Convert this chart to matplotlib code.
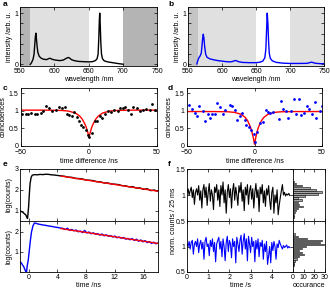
import numpy as np
import matplotlib.pyplot as plt

plt.rcParams['font.family'] = ['Liberation Sans', 'DejaVu Sans']
plt.rcParams['font.size'] = 5
plt.rcParams['axes.linewidth'] = 0.6
plt.rcParams['xtick.direction'] = 'in'
plt.rcParams['ytick.direction'] = 'in'
plt.rcParams['xtick.top'] = True
plt.rcParams['ytick.right'] = True
plt.rcParams['xtick.major.size'] = 2
plt.rcParams['ytick.major.size'] = 2
plt.rcParams['xtick.major.width'] = 0.5
plt.rcParams['ytick.major.width'] = 0.5
plt.rcParams['xtick.major.pad'] = 1.5
plt.rcParams['ytick.major.pad'] = 1.2
plt.rcParams['axes.labelpad'] = 1.0

# ----------------------------- DATA | spectra
spec_a_nm = [565, 567, 569, 570.5, 571.5, 572.5, 573.2, 574, 575, 576, 578, 581, 585, 589,
             592, 594, 597, 602, 608, 613, 617, 620, 622, 625, 629, 635, 642, 650, 656,
             660, 662.5, 664, 665, 665.8, 666.4, 667.2, 668, 669, 670.5, 673, 678, 685,
             692, 700]
spec_a = [0.0, 0.04, 0.10, 0.2, 0.38, 0.55, 0.61, 0.5, 0.35, 0.24, 0.16, 0.12, 0.10, 0.095,
          0.115, 0.12, 0.10, 0.085, 0.075, 0.085, 0.115, 0.135, 0.13, 0.095, 0.075, 0.06,
          0.055, 0.05, 0.055, 0.075, 0.11, 0.2, 0.5, 0.85, 1.0, 0.75, 0.42, 0.2, 0.11, 0.07,
          0.05, 0.035, 0.02, 0.005]
spec_b_nm = [563, 564.5, 566, 568, 569.5, 570.5, 571.5, 572.5, 573.5, 574.5, 576, 578, 582,
             588, 594, 600, 606, 612, 616, 619, 621, 624, 630, 640, 650, 656, 660, 663,
             664.5, 665.5, 666.5, 667.5, 668.5, 669.5, 671, 674, 680, 690, 700, 715, 725,
             729, 731.5, 734, 738, 745, 750]
spec_b = [0.01, 0.08, 0.13, 0.17, 0.22, 0.35, 0.5, 0.59, 0.5, 0.35, 0.2, 0.14, 0.11, 0.09,
          0.075, 0.065, 0.055, 0.05, 0.06, 0.075, 0.075, 0.055, 0.04, 0.035, 0.035, 0.045,
          0.065, 0.13, 0.3, 0.65, 1.0, 0.8, 0.45, 0.22, 0.12, 0.07, 0.04, 0.025, 0.02, 0.02,
          0.022, 0.035, 0.045, 0.035, 0.022, 0.015, 0.015]

# ----------------------------- DATA | coincidences
c_t = [-49, -46.6, -45, -42.6, -40, -38, -35.5, -33.7, -31.3, -29.4, -27, -24.6, -22.2, -20,
       -18, -16, -14.5, -12.6, -10.7, -9, -7.3, -5.9, -4.2, -2.5, -1, 0.3, 2.3, 4.2, 6, 8,
       9.5, 11.4, 13.8, 16.2, 18.6, 21, 23, 24.8, 26.7, 28.7, 30.6, 32.5, 35, 37.3, 39.7,
       42, 44.5, 46.2, 48.5]
c_y = [0.9, 0.9, 0.92, 0.95, 0.92, 0.92, 0.95, 1.0, 1.15, 1.08, 1.0, 1.02, 1.12, 1.08, 1.1,
       0.9, 0.88, 0.85, 0.98, 0.82, 0.7, 0.6, 0.55, 0.45, 0.32, 0.27, 0.37, 0.72, 0.72, 0.85,
       0.8, 0.92, 1.0, 0.98, 1.02, 1.0, 1.08, 1.08, 1.1, 1.02, 0.9, 1.1, 1.08, 1.0, 1.02,
       1.05, 1.02, 1.2, 1.02]
c_fit_t = [-50, -30, -20, -15, -10, -7, -5, -3, -2, -1, 0, 1, 2, 3, 5, 7, 10, 15, 20, 30, 50]
c_fit = [1.02, 1.02, 1.011, 0.993, 0.937, 0.857, 0.767, 0.625, 0.53, 0.40, 0.25, 0.40,
         0.53, 0.625, 0.767, 0.857, 0.937, 0.993, 1.011, 1.02, 1.02]

d_t = [-48.6, -46.6, -44.3, -42.6, -40.9, -38.5, -36.6, -34.7, -33, -31.3, -29.4, -27.5,
       -25.8, -23.4, -21.5, -18, -16.3, -14.6, -12.7, -10.8, -9.1, -7.4, -6, -4.3, -2.6,
       -0.7, 0.5, 2.2, 4.1, 6, 8.4, 10, 11.7, 13.6, 17.9, 19.6, 21.3, 23.2, 25.1, 26.8,
       29.2, 30.9, 32.8, 34.7, 36.4, 38.8, 40.5, 42.3, 44.7, 45.9, 48.3, 50]
d_y = [1.18, 1.05, 0.95, 0.86, 1.13, 0.99, 0.72, 0.91, 0.81, 0.91, 0.91, 1.21, 1.10, 0.91,
       1.02, 1.18, 1.13, 1.02, 0.75, 0.84, 0.95, 0.75, 0.59, 0.54, 0.46, 0.34, 0.1, 0.41,
       0.65, 0.67, 1.02, 0.97, 0.95, 0.97, 0.77, 1.27, 1.05, 1.0, 0.81, 0.99, 1.34, 0.91,
       1.34, 0.88, 0.95, 1.13, 1.05, 0.91, 1.24, 0.81, 0.99, 1.13]
d_fit_t = [-50, -30, -20, -15, -10, -7, -5, -3, -2, -1, 0, 1, 2, 3, 5, 7, 10, 15, 20, 30, 50]
d_fit = [0.98, 0.98, 0.974, 0.958, 0.904, 0.818, 0.713, 0.54, 0.416, 0.256, 0.05, 0.256,
         0.416, 0.54, 0.713, 0.818, 0.904, 0.958, 0.974, 0.98, 0.98]

# ----------------------------- DATA | lifetimes
e_t_top = [-1.2, -1.0, -0.8, -0.6, -0.4, -0.25, -0.15, 0.0, 0.1, 0.2, 0.35, 0.5, 0.8, 1.2,
           1.6, 2.0, 2.4, 2.8, 3.2, 3.6, 4.0, 4.5, 5, 5.5, 6, 6.5, 7, 7.5, 8, 8.5, 9, 9.5,
           10, 10.5, 11, 11.5, 12, 12.5, 13, 13.5, 14, 14.5, 15, 15.5, 16, 16.5, 17, 17.5, 18]
e_y_top = [1.0, 0.95, 0.92, 0.85, 0.8, 0.68, 0.62, 1.2, 1.8, 2.3, 2.6, 2.7, 2.73, 2.72,
           2.74, 2.73, 2.75, 2.74, 2.72, 2.71, 2.69, 2.67, 2.65, 2.61, 2.60, 2.55, 2.54,
           2.52, 2.47, 2.46, 2.44, 2.39, 2.38, 2.33, 2.33, 2.28, 2.27, 2.25, 2.20, 2.19,
           2.14, 2.15, 2.08, 2.09, 2.02, 2.05, 1.96, 1.99, 1.92]
e_fit_top_t = [4.5, 18]
e_fit_top = [2.66, 1.93]

e_t_bot = [-1.2, -1.0, -0.85, -0.7, -0.55, -0.4, -0.3, -0.2, -0.05, 0.1, 0.25, 0.4, 0.6,
           0.8, 1.0, 1.3, 1.6, 2.0, 2.4, 2.8, 3.2, 3.6, 4.0, 4.4, 4.8, 5.1, 5.4, 5.7, 6.0,
           6.3, 6.6, 6.9, 7.2, 7.5, 7.8, 8.1, 8.4, 8.7, 9.0, 9.3, 9.6, 9.9, 10.2, 10.5,
           10.8, 11.1, 11.4, 11.7, 12.0, 12.3, 12.6, 12.9, 13.2, 13.5, 13.8, 14.1, 14.4,
           14.7, 15.0, 15.3, 15.6, 15.9, 16.2, 16.5, 16.8, 17.1, 17.4, 17.7, 18.0]
e_y_bot = [0.5, 0.45, 0.35, 0.28, 0.15, 0.02, -0.05, 0.3, 0.6, 1.1, 1.6, 2.0, 2.3, 2.45,
           2.44, 2.40, 2.38, 2.35, 2.33, 2.30, 2.28, 2.25, 2.23, 2.20, 2.18, 2.12, 2.19,
           2.08, 2.13, 2.06, 2.10, 2.01, 2.05, 1.97, 2.08, 1.95, 2.00, 1.91, 1.96, 1.89,
           1.92, 1.84, 1.90, 1.81, 1.86, 1.79, 1.82, 1.75, 1.80, 1.71, 1.75, 1.69, 1.73,
           1.64, 1.68, 1.61, 1.67, 1.58, 1.64, 1.54, 1.60, 1.51, 1.57, 1.47, 1.52, 1.43,
           1.49, 1.41, 1.45]
e_fit_bot_t = [4.5, 18]
e_fit_bot = [2.17, 1.43]

# ----------------------------- DATA | intensity traces (25 ms bins, shown every 50 ms)
f_dt = 0.05
f_upper = [1.05, 1.12, 1.0, 1.08, 1.15, 0.95, 1.1, 0.82, 1.05, 1.12,
           1.0, 1.18, 0.9, 1.08, 0.75, 1.1, 1.2, 0.95, 1.15, 0.8,
           1.05, 1.22, 0.88, 1.1, 1.0, 0.72, 1.15, 1.05, 1.2, 0.9,
           1.1, 0.78, 1.18, 1.0, 1.25, 0.85, 1.1, 0.65, 1.05, 1.2,
           0.95, 1.12, 0.75, 1.08, 1.22, 0.9, 1.15, 1.0, 0.8, 1.18,
           1.05, 1.24, 0.88, 1.1, 0.7, 1.15, 1.0, 1.2, 0.82, 1.08,
           1.18, 0.92, 1.12, 0.75, 1.05, 1.22, 0.95, 1.1, 0.68, 1.15,
           1.02, 1.2, 0.85, 1.08, 0.78, 1.12, 1.0, 1.18, 0.9, 0.72,
           1.05, 1.15, 0.65, 1.0, 0.85, 1.1, 0.62, 0.8, 0.95, 1.08,
           1.2, 1.0, 1.05, 0.98, 1.02, 1.0, 1.03, 0.99]
f_lower = [1.05, 1.0, 1.1, 0.95, 1.08, 1.12, 0.85, 1.05, 1.1, 1.0,
           1.15, 0.88, 1.05, 1.12, 0.95, 1.08, 0.75, 1.1, 1.18, 1.0,
           1.05, 0.82, 1.12, 1.0, 1.15, 0.9, 1.08, 0.7, 1.05, 1.12,
           1.18, 0.95, 1.1, 0.8, 1.15, 1.0, 0.72, 1.08, 1.2, 0.9,
           1.12, 1.05, 0.78, 1.15, 1.0, 1.1, 0.68, 1.18, 1.05, 0.9,
           1.12, 1.22, 0.85, 1.1, 1.25, 0.95, 1.15, 0.72, 1.2, 1.05,
           0.88, 1.18, 1.0, 1.1, 0.7, 1.12, 0.95, 1.15, 0.8, 1.08,
           1.0, 1.12, 0.75, 1.05, 0.9, 1.1, 0.65, 0.82, 1.0, 0.68,
           1.08, 0.92, 1.1, 1.0, 0.75, 1.05, 0.98, 1.12, 1.05, 1.0,
           0.95, 1.02, 0.98, 1.0, 1.03, 0.97, 1.0, 0.98]

hist_up_y = [1.26, 1.22, 1.18, 1.14, 1.10, 1.06, 1.02, 0.98, 0.94, 0.90, 0.86, 0.82, 0.78,
             0.74, 0.70, 0.66, 0.62, 0.58]
hist_up_n = [1, 3, 8, 16, 22, 27, 23, 11, 5, 8, 5, 6, 9, 5, 3, 2, 1, 1]
hist_lo_y = [1.25, 1.2, 1.16, 1.12, 1.08, 1.04, 1.0, 0.96, 0.92, 0.88, 0.84, 0.8, 0.76,
             0.72, 0.68, 0.64]
hist_lo_n = [2, 5, 13, 27, 25, 29, 12, 8, 6, 8, 10, 6, 4, 2, 1, 1]


# ----------------------------- LAYOUT (pixel boxes: left, top, right, bottom)
W, H = 330, 289
fig = plt.figure(figsize=(W / 100, H / 100), dpi=100)


def box(l, t, r, b):
    return fig.add_axes([l / W, 1 - b / H, (r - l) / W, (b - t) / H])


ax_a = box(20, 7, 157, 66)
ax_b = box(188, 7, 324, 66)
ax_c = box(21, 88, 157, 146)
ax_d = box(187, 88, 322, 146)
ax_e1 = box(20, 169, 158, 221)
ax_e2 = box(20, 221, 158, 272)
ax_f1 = box(187, 169, 293, 221)
ax_f2 = box(187, 221, 293, 272)
ax_h1 = box(293, 169, 325, 221)
ax_h2 = box(293, 221, 325, 272)

# ----------------------------- a, b | spectra
for ax, nm, sp, col, shades in [
        (ax_a, spec_a_nm, spec_a, 'k', ['#b4b4b4', '#e0e0e0', 'white', '#b4b4b4']),
        (ax_b, spec_b_nm, spec_b, 'b', ['#c4c4c4', '#e0e0e0', 'white', '#e0e0e0'])]:
    for (x0, x1), c in zip([(550, 565), (565, 650), (650, 700), (700, 750)], shades):
        ax.axvspan(x0, x1, color=c, lw=0, zorder=0)
    ax.plot(nm, sp, color=col, lw=1)
    ax.set_xlim(550, 750)
    ax.set_ylim(-0.03, 1.12)
    ax.set_xticks([550, 600, 650, 700, 750])
    ax.set_yticks([0, 0.2, 0.4, 0.6, 0.8, 1.0])
    ax.set_yticklabels(['0', '', '', '', '', '1'])
    ax.set_xlabel('wavelength /nm')
    ax.set_ylabel('intensity /arb. u.')

# ----------------------------- c, d | coincidences
for ax, t, y, ft, fy, col in [(ax_c, c_t, c_y, c_fit_t, c_fit, 'k'),
                               (ax_d, d_t, d_y, d_fit_t, d_fit, 'b')]:
    ax.plot(ft, fy, color='r', lw=1)
    ax.plot(t, y, 'o', color=col, ms=2, mew=0)
    ax.set_xlim(-50, 50)
    ax.set_ylim(0, 1.65)
    ax.set_xticks([-50, 0, 50])
    ax.set_yticks([0, 0.5, 1, 1.5])
    ax.set_yticklabels(['0', '0.5', '1', '1.5'])
    ax.tick_params(axis='x', pad=2.5)
    ax.tick_params(axis='y', pad=2)
    ax.set_xlabel('time difference /ns')
    ax.set_ylabel('coincidences')

# ----------------------------- e | lifetimes
ax_e1.plot(e_t_top, e_y_top, color='k', lw=1)
ax_e1.plot(e_fit_top_t, e_fit_top, color='r', lw=1)
ax_e2.plot(e_t_bot, e_y_bot, color='b', lw=1)
ax_e2.plot(e_fit_bot_t, e_fit_bot, color='r', lw=1)
ax_e1.set_ylim(0.5, 3)
ax_e1.set_yticks([1, 2, 3])
ax_e2.set_ylim(0, 2.55)
ax_e2.set_yticks([1, 2])
for ax in (ax_e1, ax_e2):
    ax.set_xlim(-1.2, 18)
    ax.set_xticks([0, 4, 8, 12, 16])
    ax.set_ylabel('log(counts)')
ax_e1.tick_params(labelbottom=False)
ax_e2.set_xlabel('time /ns')

# ----------------------------- f | intensity traces + histograms
t_f = np.arange(len(f_upper)) * f_dt
ax_f1.plot(t_f, f_upper, color='k', lw=0.8)
ax_f2.plot(t_f, f_lower, color='b', lw=0.8)
for ax in (ax_f1, ax_f2):
    ax.set_xlim(0, 5)
    ax.set_xticks([0, 1, 2, 3, 4])
    ax.set_ylim(0.5, 1.5)
ax_f1.set_yticks([0.5, 1, 1.5])
ax_f1.set_yticklabels(['0.5', '1', '1.5'])
ax_f2.set_yticks([0.5, 1])
ax_f2.set_yticklabels(['0.5', '1'])
ax_f1.tick_params(labelbottom=False)
ax_f2.set_xlabel('time /s')
fig.text(173 / W, 1 - 221 / H, 'norm. counts / 25 ms', rotation=90, ha='center', va='center')

for ax, y, n in [(ax_h1, hist_up_y, hist_up_n), (ax_h2, hist_lo_y, hist_lo_n)]:
    ax.barh(y, n, height=0.03, color='0.65', edgecolor='k', linewidth=0.4)
    ax.set_xlim(0, 30)
    ax.set_ylim(0.5, 1.5)
    ax.set_xticks([0, 10, 20, 30])
    ax.set_yticks([])
ax_h1.tick_params(labelbottom=False)
ax_h2.set_xlabel('occurance')

# ----------------------------- panel letters
for s, x, y in [('a', 3, 5), ('b', 168, 5), ('c', 3, 88), ('d', 168, 88), ('e', 3, 165),
                ('f', 168, 165)]:
    fig.text(x / W, 1 - y / H, s, fontsize=6, fontweight='bold', va='center')

fig.savefig('out.png', dpi=100)
